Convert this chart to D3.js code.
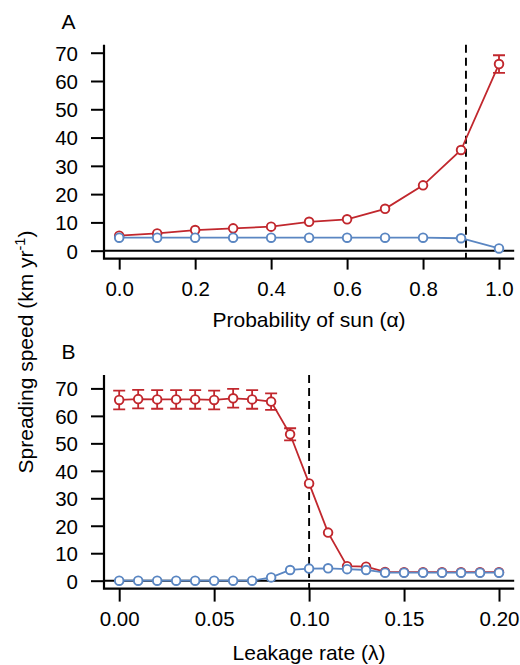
<!DOCTYPE html>
<html>
<head>
<meta charset="utf-8">
<script src="https://cdn.jsdelivr.net/npm/d3@7"></script>
<style>
  html, body { margin: 0; padding: 0; background: #fff; }
  svg { display: block; }
  text { font-family: "Liberation Sans", Arial, Helvetica, sans-serif; fill: #000; }
</style>
</head>
<body>
<script>
// ---------- DATA ----------
// Panel A: probability of sun (alpha)
const alphaValues = [0.0, 0.1, 0.2, 0.3, 0.4, 0.5, 0.6, 0.7, 0.8, 0.9, 1.0];
const alphaRed    = [5.3, 6.1, 7.3, 7.9, 8.5, 10.2, 11.1, 14.8, 23.1, 35.6, 66.0];
const alphaRedErr = [0, 0, 0, 0, 0, 0, 0, 0, 0, 0, 3.1];
const alphaBlue   = [4.6, 4.6, 4.6, 4.6, 4.6, 4.6, 4.6, 4.6, 4.6, 4.4, 0.8];
const alphaThreshold = 0.913;
const alphaTicks  = [0.0, 0.2, 0.4, 0.6, 0.8, 1.0];
const alphaTickLabels = ["0.0", "0.2", "0.4", "0.6", "0.8", "1.0"];

// Panel B: leakage rate (lambda)
const lambdaValues = [0.00, 0.01, 0.02, 0.03, 0.04, 0.05, 0.06, 0.07, 0.08, 0.09, 0.10,
                      0.11, 0.12, 0.13, 0.14, 0.15, 0.16, 0.17, 0.18, 0.19, 0.20];
const lambdaRed    = [65.8, 66.1, 66.0, 66.0, 66.0, 65.8, 66.4, 66.0, 65.2, 53.3, 35.4,
                      17.5, 5.3, 5.1, 3.2, 3.1, 3.1, 3.1, 3.1, 3.1, 3.1];
const lambdaRedErr = [3.4, 3.4, 3.4, 3.4, 3.4, 3.4, 3.4, 3.4, 3.0, 2.2, 0,
                      0, 0, 0, 0, 0, 0, 0, 0, 0, 0];
const lambdaBlue   = [0, 0, 0, 0, 0, 0, 0, 0, 1.2, 3.9, 4.4,
                      4.5, 4.2, 3.9, 2.9, 2.9, 2.9, 2.9, 2.9, 2.9, 2.9];
const lambdaThreshold = 0.10;
const lambdaTicks  = [0.00, 0.05, 0.10, 0.15, 0.20];
const lambdaTickLabels = ["0.00", "0.05", "0.10", "0.15", "0.20"];

const yTicks = [0, 10, 20, 30, 40, 50, 60, 70];

// ---------- STYLE ----------
const RED = "#c1272d";
const BLUE = "#5a86c2";
const FS = 20.5;
const FSL = 21;

const svg = d3.select("body").append("svg")
  .attr("width", 520).attr("height", 665);

function panel(opts) {
  const g = svg.append("g");
  const x = d3.scaleLinear().domain(opts.xDomain).range([104, 514.2]);
  const y = d3.scaleLinear().domain(opts.yDomain).range([opts.bottom, opts.top]);

  // panel letter
  g.append("text").attr("x", 61.5).attr("y", opts.letterY)
    .attr("font-size", FSL).text(opts.letter);

  // y axis (left)
  const yAxis = d3.axisLeft(y).tickValues(yTicks).tickSize(13).tickPadding(13)
    .tickFormat(d3.format("d"));
  const ya = g.append("g").attr("transform", "translate(104,0)").call(yAxis);
  ya.select(".domain").remove();
  ya.selectAll(".tick line").attr("stroke", "#000").attr("stroke-width", 2);
  ya.selectAll(".tick text").attr("font-size", FS)
    .attr("font-family", "Liberation Sans, Arial, sans-serif").attr("dy", "0.36em");

  // x axis (bottom)
  const xAxis = d3.axisBottom(x).tickValues(opts.xTicks).tickSize(opts.xTickLen).tickPadding(0)
    .tickFormat((d, i) => opts.xTickLabels[i]);
  const xa = g.append("g").attr("transform", `translate(0,${opts.bottom})`).call(xAxis);
  xa.select(".domain").remove();
  xa.selectAll(".tick line").attr("stroke", "#000").attr("stroke-width", 2);
  xa.selectAll(".tick text").attr("font-size", FS)
    .attr("font-family", "Liberation Sans, Arial, sans-serif")
    .attr("dy", null).attr("y", 37).attr("dominant-baseline", "auto");

  // L-shaped box
  g.append("path")
    .attr("d", `M104,${opts.top} L104,${opts.bottom} L514.2,${opts.bottom}`)
    .attr("fill", "none").attr("stroke", "#000").attr("stroke-width", 2.2);

  // zero line
  g.append("line").attr("x1", 104).attr("x2", 514.2)
    .attr("y1", y(0)).attr("y2", y(0))
    .attr("stroke", "#000").attr("stroke-width", 2);

  // threshold dashed line
  g.append("line").attr("x1", x(opts.threshold)).attr("x2", x(opts.threshold))
    .attr("y1", opts.top).attr("y2", opts.bottom)
    .attr("stroke", "#000").attr("stroke-width", 1.9).attr("stroke-dasharray", "8,5");

  // x label
  g.append("text").attr("x", 309).attr("y", opts.xLabelY)
    .attr("text-anchor", "middle").attr("font-size", FSL).text(opts.xLabel);

  function series(vals, errs, color) {
    const pts = opts.xs.map((d, i) => ({ x: d, y: vals[i], e: errs ? errs[i] : 0 }));
    g.append("path").datum(pts)
      .attr("d", d3.line().x(d => x(d.x)).y(d => y(d.y)))
      .attr("fill", "none").attr("stroke", color).attr("stroke-width", 1.8);
    const eb = g.append("g");
    pts.filter(d => d.e > 0.5).forEach(d => {
      const cx = x(d.x), y1 = y(d.y - d.e), y2 = y(d.y + d.e);
      eb.append("path")
        .attr("d", `M${cx},${y1} L${cx},${y2} M${cx - 6},${y1} L${cx + 6},${y1} M${cx - 6},${y2} L${cx + 6},${y2}`)
        .attr("fill", "none").attr("stroke", color).attr("stroke-width", 1.8);
    });
    g.append("g").selectAll("circle").data(pts).join("circle")
      .attr("cx", d => x(d.x)).attr("cy", d => y(d.y)).attr("r", 4.3)
      .attr("fill", "#fff").attr("stroke", color).attr("stroke-width", 1.9);
  }
  series(opts.red, opts.redErr, RED);
  series(opts.blue, null, BLUE);
}

panel({
  letter: "A", letterY: 29.3,
  xDomain: [-0.04, 1.04], yDomain: [-2.8, 72.8], top: 44.8, bottom: 258.6,
  xTicks: alphaTicks, xTickLabels: alphaTickLabels, xTickLen: 11,
  xs: alphaValues, red: alphaRed, redErr: alphaRedErr, blue: alphaBlue,
  threshold: alphaThreshold, xLabel: "Probability of sun (\u03B1)", xLabelY: 326.5
});

panel({
  letter: "B", letterY: 359.3,
  xDomain: [-0.008, 0.208], yDomain: [-2.88, 74.88], top: 375, bottom: 588.6,
  xTicks: lambdaTicks, xTickLabels: lambdaTickLabels, xTickLen: 13,
  xs: lambdaValues, red: lambdaRed, redErr: lambdaRedErr, blue: lambdaBlue,
  threshold: lambdaThreshold, xLabel: "Leakage rate (\u03BB)", xLabelY: 659.5
});

// shared y label
const yl = svg.append("text")
  .attr("transform", "translate(33,352) rotate(-90)")
  .attr("text-anchor", "middle").attr("font-size", FSL);
yl.append("tspan").text("Spreading speed (km yr");
yl.append("tspan").attr("font-size", 14.5).attr("dy", -8).text("-1");
yl.append("tspan").attr("dy", 8).text(")");
</script>
</body>
</html>
